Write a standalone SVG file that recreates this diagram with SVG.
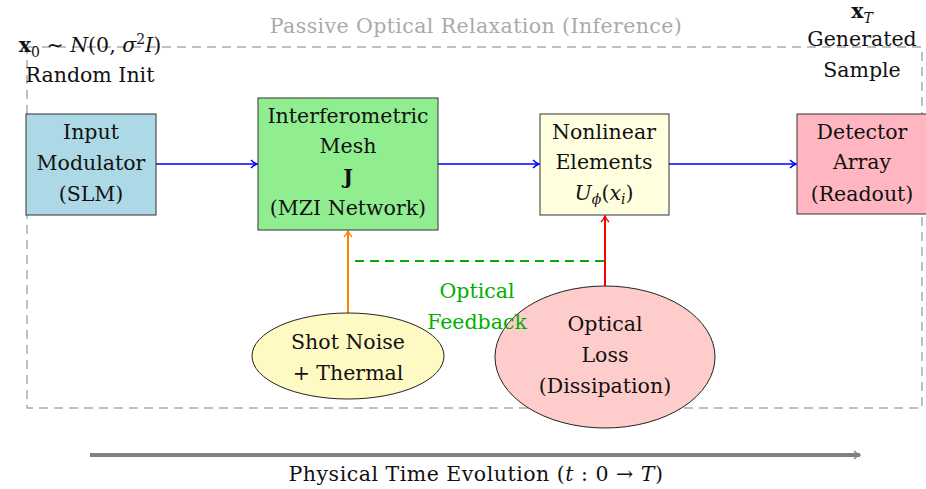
<svg xmlns="http://www.w3.org/2000/svg" width="926" height="489" viewBox="0 0 926 489">
<defs>
<style>
text{font-family:"DejaVu Serif","Liberation Serif",serif;font-size:20.5px;fill:#111;text-anchor:middle}
.box{stroke:#333;stroke-width:1}
.it{font-style:italic}
</style>
<marker id="ab" viewBox="0 0 10 10" refX="9" refY="5" markerWidth="10" markerHeight="10" markerUnits="userSpaceOnUse" orient="auto"><path d="M3,1 Q6,4 9,5 Q6,6 3,9" fill="none" stroke="blue" stroke-width="1.5"/></marker>
<marker id="ao" viewBox="0 0 10 10" refX="9" refY="5" markerWidth="10" markerHeight="10" markerUnits="userSpaceOnUse" orient="auto"><path d="M3,1 Q6,4 9,5 Q6,6 3,9" fill="none" stroke="#ff8000" stroke-width="1.5"/></marker>
<marker id="ar" viewBox="0 0 10 10" refX="9" refY="5" markerWidth="10" markerHeight="10" markerUnits="userSpaceOnUse" orient="auto"><path d="M3,1 Q6,4 9,5 Q6,6 3,9" fill="none" stroke="red" stroke-width="1.5"/></marker>
<marker id="ag" viewBox="0 0 10 10" refX="8" refY="5" markerWidth="10" markerHeight="10" markerUnits="userSpaceOnUse" orient="auto"><path d="M2,1 Q5,4 8,5 Q5,6 2,9" fill="none" stroke="#808080" stroke-width="1.3"/></marker>
</defs>
<rect width="926" height="489" fill="#fff"/>
<g id="frame">
<rect x="27" y="47" width="895" height="361" fill="none" stroke="#aaa" stroke-width="1.5" stroke-dasharray="9,6"/>
<text x="476" y="33" style="fill:#aaa;letter-spacing:0.4px">Passive Optical Relaxation (Inference)</text>
</g>
<g id="init">
<text x="90" y="52"><tspan font-weight="bold">x</tspan><tspan font-size="14" dy="5">0</tspan><tspan dy="-5"> ∼ </tspan><tspan class="it">N</tspan>(0, <tspan class="it">σ</tspan><tspan font-size="14" dy="-8">2</tspan><tspan class="it" dy="8">I</tspan>)</text>
<text x="90" y="82">Random Init</text>
</g>
<g id="sample">
<text x="862" y="18"><tspan font-weight="bold">x</tspan><tspan font-size="14" dy="5" class="it">T</tspan></text>
<text x="862" y="46">Generated</text>
<text x="862" y="77">Sample</text>
</g>
<g id="connectors" fill="none">
<line x1="156" y1="164" x2="257" y2="164" stroke="blue" stroke-width="1.5" marker-end="url(#ab)"/>
<line x1="438" y1="164" x2="539" y2="164" stroke="blue" stroke-width="1.5" marker-end="url(#ab)"/>
<line x1="669" y1="164" x2="796" y2="164" stroke="blue" stroke-width="1.5" marker-end="url(#ab)"/>
<line x1="348" y1="313" x2="348" y2="231" stroke="#ff8000" stroke-width="2" marker-end="url(#ao)"/>
<line x1="605" y1="288" x2="605" y2="216" stroke="red" stroke-width="2" marker-end="url(#ar)"/>
<line x1="355" y1="261" x2="604" y2="261" stroke="#00b000" stroke-width="2" stroke-dasharray="9,6"/>
<line x1="90" y1="455" x2="860" y2="455" stroke="#808080" stroke-width="4" marker-end="url(#ag)"/>
</g>
<g id="input">
<rect class="box" x="26" y="114" width="130" height="101" fill="#add8e6"/>
<text x="91" y="139">Input</text>
<text x="91" y="170">Modulator</text>
<text x="91" y="201">(SLM)</text>
</g>
<g id="mesh">
<rect class="box" x="258" y="98" width="180" height="132" fill="#90ee90"/>
<text x="348" y="123">Interferometric</text>
<text x="348" y="153">Mesh</text>
<text x="348" y="184" font-weight="bold">J</text>
<text x="348" y="215">(MZI Network)</text>
</g>
<g id="nonlinear">
<rect class="box" x="540" y="114" width="129" height="101" fill="#ffffe0"/>
<text x="604" y="139">Nonlinear</text>
<text x="604" y="169">Elements</text>
<text x="604" y="200"><tspan class="it">U</tspan><tspan class="it" font-size="14" dy="4">ϕ</tspan><tspan dy="-4">(</tspan><tspan class="it">x</tspan><tspan class="it" font-size="14" dy="4">i</tspan><tspan dy="-4">)</tspan></text>
</g>
<g id="detector">
<rect class="box" x="797" y="114" width="130" height="100" fill="#ffb6c1"/>
<text x="862" y="139">Detector</text>
<text x="862" y="169">Array</text>
<text x="862" y="201">(Readout)</text>
</g>
<g id="noise">
<ellipse cx="348" cy="356" rx="96" ry="43" fill="#fff9c4" stroke="#222" stroke-width="1"/>
<text x="348" y="349">Shot Noise</text>
<text x="348" y="380">+ Thermal</text>
</g>
<g id="loss">
<ellipse cx="605" cy="357" rx="110" ry="71" fill="#ffcccc" stroke="#222" stroke-width="1"/>
<text x="605" y="331">Optical</text>
<text x="605" y="362">Loss</text>
<text x="605" y="393">(Dissipation)</text>
</g>
<g id="feedback">
<text x="477" y="298" style="fill:#00b000">Optical</text>
<text x="477" y="329" style="fill:#00b000">Feedback</text>
</g>
<g id="time">
<text x="476" y="481" style="letter-spacing:0.5px">Physical Time Evolution (<tspan class="it">t</tspan> : 0 → <tspan class="it">T</tspan>)</text>
</g>
</svg>
